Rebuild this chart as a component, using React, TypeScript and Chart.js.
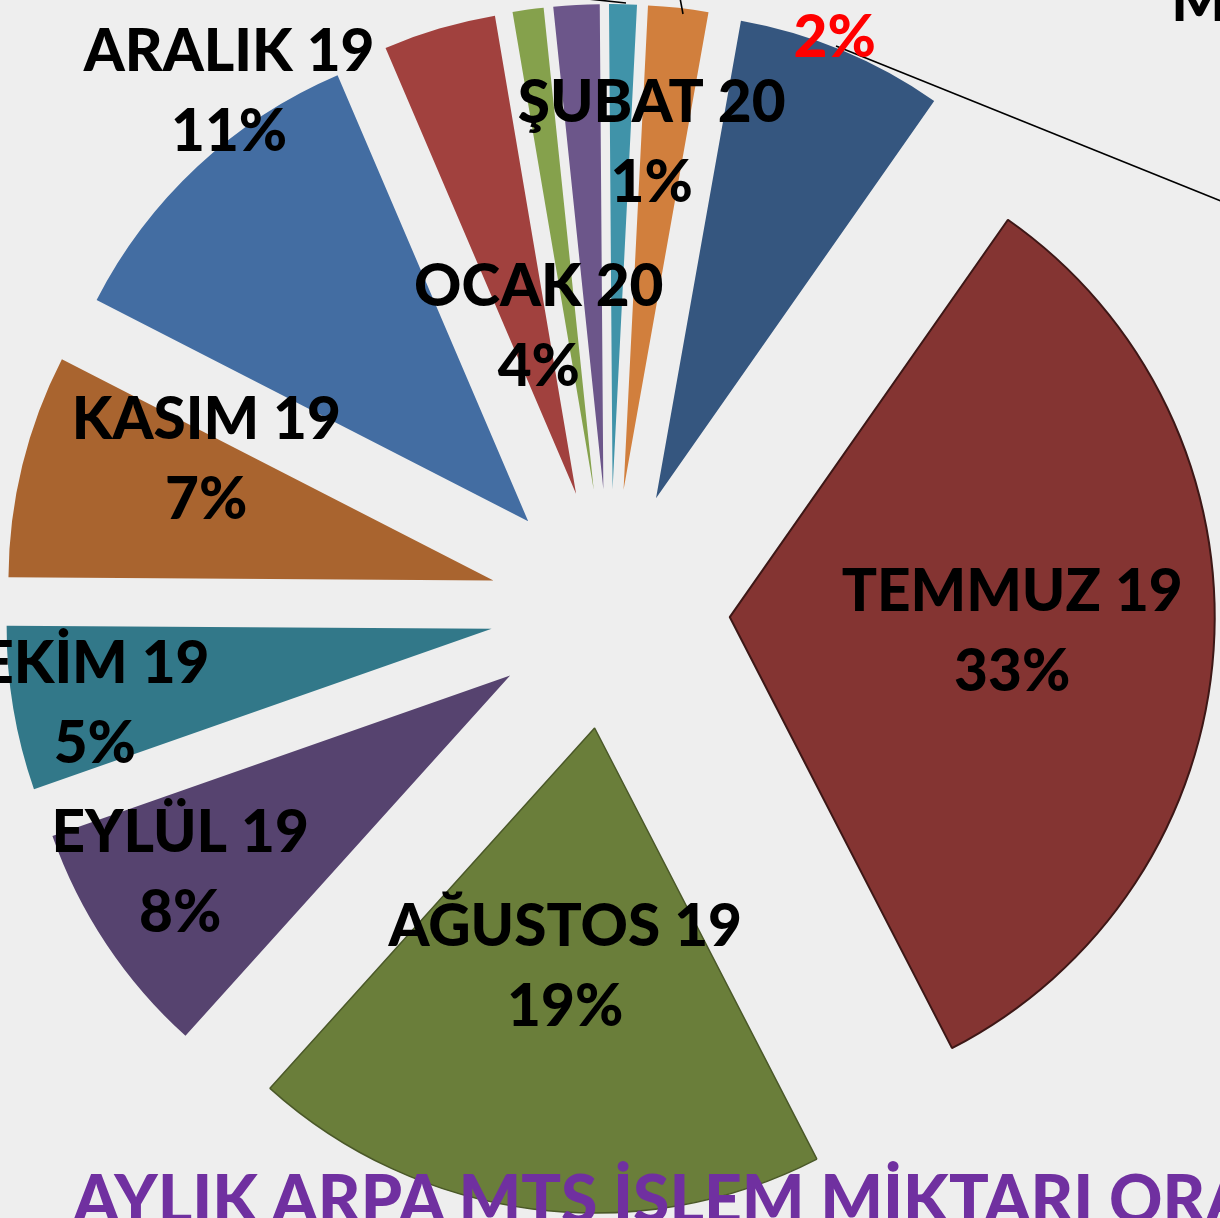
import React, { useEffect, useRef } from "react";
import { Chart, registerables } from "chart.js";

Chart.register(...registerables);

// ---- data ----
const categories = [
  "TEMMUZ 19",
  "AĞUSTOS 19",
  "EYLÜL 19",
  "EKİM 19",
  "KASIM 19",
  "ARALIK 19",
  "OCAK 20",
  "ŞUBAT 20",
  "MART 20",
  "NİSAN 20",
  "MAYIS 20",
  "HAZİRAN 20",
];
const shares = [32.7, 19.25, 7.96, 5.47, 7.44, 11.03, 3.75, 1.03, 1.53, 0.92, 2.0, 6.92];
const sliceColors = [
  "#843432",
  "#6A7E3A",
  "#56436F",
  "#327889",
  "#A9642F",
  "#436DA2",
  "#A1413E",
  "#85A14C",
  "#6C568A",
  "#4093A9",
  "#D17F3D",
  "#35567F",
];
const edgeColors = [
  "#3d1716",
  "#4a5828",
  "#56436F",
  "#327889",
  "#A9642F",
  "#436DA2",
  "#A1413E",
  "#85A14C",
  "#6C568A",
  "#4093A9",
  "#D17F3D",
  "#35567F",
];
const edgeWidths = [2, 1.5, 0, 0, 0, 0, 0, 0, 0, 0, 0, 0];
const titleText = "AYLIK ARPA MTS İŞLEM MİKTARI ORANLARI";

// ---- styling ----
const EXPLODE = 120;
const RADIUS = 485;
const ROTATION = 35;
const LABEL_SIZE = 58.5;
const LABEL_FONT = `900 ${LABEL_SIZE}px Lato`;
const CAP = LABEL_SIZE * 0.7165;
const LINE_GAP = 80;

type Place = { dAng: number; frac: number; color?: string; align?: CanvasTextAlign } | null;
const labelPlaces: Place[] = [
  { dAng: -1.26, frac: 0.583 },
  { dAng: -0.3, frac: 0.492 },
  { dAng: 2.98, frac: 0.791 },
  { dAng: -1.0, frac: 0.832 },
  { dAng: 9.4, frac: 0.644 },
  { dAng: 8.25, frac: 1.082 },
  { dAng: 3.93, frac: 0.357 },
  { dAng: 17.2, frac: 0.73 },
  { dAng: 60.25, frac: 1.7033 },
  null,
  { dAng: 16.67, frac: 1.107, color: "#FF0000" },
  null,
];
const leaders: number[][] = [
  [836, 46, 1240, 208.6],
  [588, -1, 626, 3],
  [680, -2, 683, 14],
];

const explodePlugin = {
  id: "explode",
  afterDatasetsUpdate(chart: any) {
    const meta = chart.getDatasetMeta(0);
    meta.data.forEach((arc: any) => {
      const mid = (arc.startAngle + arc.endAngle) / 2;
      arc.x += Math.cos(mid) * EXPLODE;
      arc.y += Math.sin(mid) * EXPLODE;
    });
  },
};

const labelPlugin = {
  id: "sliceLabels",
  afterDatasetsDraw(chart: any) {
    const ctx: CanvasRenderingContext2D = chart.ctx;
    const meta = chart.getDatasetMeta(0);
    const data = chart.data.datasets[0].data as number[];
    const total = data.reduce((a, b) => a + b, 0);
    ctx.save();
    ctx.strokeStyle = "#000";
    ctx.lineWidth = 1.6;
    leaders.forEach(([x1, y1, x2, y2]) => {
      ctx.beginPath();
      ctx.moveTo(x1, y1);
      ctx.lineTo(x2, y2);
      ctx.stroke();
    });
    ctx.font = LABEL_FONT;
    ctx.textBaseline = "alphabetic";
    meta.data.forEach((arc: any, i: number) => {
      const p = labelPlaces[i];
      if (!p) return;
      const mid = (arc.startAngle + arc.endAngle) / 2 + (p.dAng * Math.PI) / 180;
      const r = p.frac * arc.outerRadius;
      const x = arc.x + Math.cos(mid) * r;
      const y = arc.y + Math.sin(mid) * r;
      ctx.fillStyle = p.color || "#000";
      ctx.textAlign = p.align || "center";
      const pct = Math.round((data[i] / total) * 100) + "%";
      ctx.fillText(String(chart.data.labels[i]), x, y - LINE_GAP / 2 + CAP / 2);
      ctx.fillText(pct, x, y + LINE_GAP / 2 + CAP / 2);
    });
    ctx.restore();
  },
};

export default function App() {
  const ref = useRef<HTMLCanvasElement>(null);
  useEffect(() => {
    const chart = new Chart(ref.current as HTMLCanvasElement, {
      type: "pie",
      data: {
        labels: categories,
        datasets: [
          {
            data: shares,
            backgroundColor: sliceColors,
            borderColor: edgeColors,
            borderWidth: edgeWidths,
            hoverOffset: 0,
          } as any,
        ],
      },
      options: {
        responsive: false,
        animation: false,
        devicePixelRatio: 1,
        rotation: ROTATION,
        radius: RADIUS,
        layout: { padding: 0 },
        plugins: { legend: { display: false }, tooltip: { enabled: false } },
      } as any,
      plugins: [explodePlugin, labelPlugin],
    });
    return () => chart.destroy();
  }, []);
  return (
    <div
      style={{
        position: "fixed",
        left: 0,
        top: 0,
        width: 1220,
        height: 1218,
        overflow: "hidden",
        background: "#EEEEEE",
      }}
    >
      <canvas
        ref={ref}
        width={1220}
        height={1218}
        style={{ position: "absolute", left: 0, top: 0, width: 1220, height: 1218 }}
      />
      <div
        style={{
          position: "absolute",
          left: 73,
          top: 1158,
          font: "900 66px Lato",
          lineHeight: 1.2,
          color: "#7030A0",
          whiteSpace: "nowrap",
        }}
      >
        {titleText}
      </div>
    </div>
  );
}
